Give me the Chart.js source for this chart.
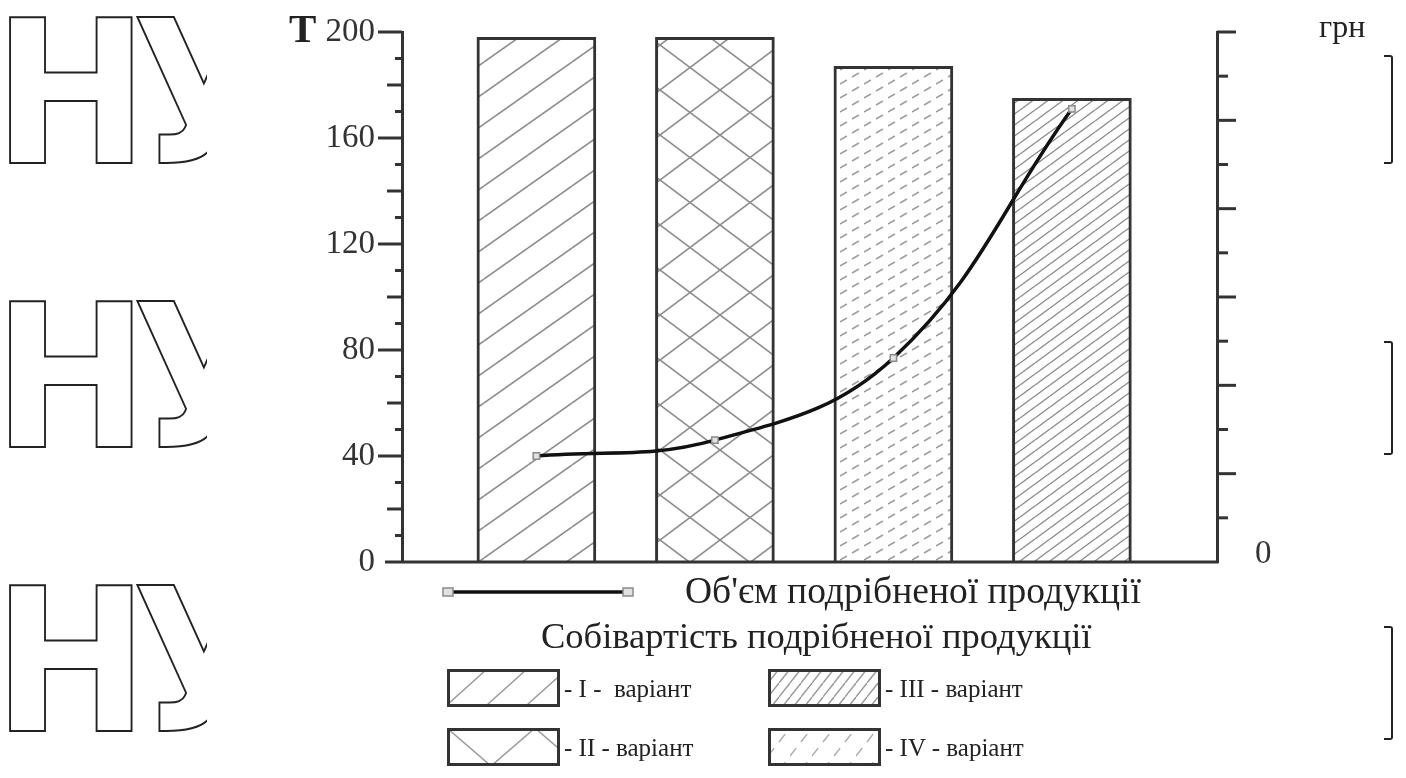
<!DOCTYPE html>
<html>
<head>
<meta charset="utf-8">
<title>Собівартість і об'єм подрібненої продукції</title>
<script src="https://cdn.jsdelivr.net/npm/chart.js@4.4.1/dist/chart.umd.min.js"></script>
<style>
  body { margin: 0; background: #fff; }
  #wrap { position: relative; width: 1406px; height: 778px; overflow: hidden; font-family: 'Liberation Serif', 'Times New Roman', serif; color: #222; }
  #chart { position: absolute; left: 0; top: 0; }
  .txt { position: absolute; white-space: nowrap; line-height: 1; }
  .logo { position: absolute; left: -7px; width: 230px; height: 200px; overflow: hidden; font-family: 'DejaVu Sans', sans-serif; font-weight: bold; font-size: 200px; line-height: 200px; color: #fff; -webkit-text-stroke: 2px #222; letter-spacing: -18px; white-space: nowrap; transform: scaleX(0.93); transform-origin: 0 0; }
  .brk { position: absolute; left: 1384px; width: 7px; border: 2px solid #222; border-left: none; border-radius: 0 3px 3px 0; }
  .sw { position: absolute; }
</style>
</head>
<body>
<div id="wrap">
  <canvas id="chart" width="1406" height="778"></canvas>

  <div class="logo" style="top:-6px">НУ</div>
  <div class="logo" style="top:278px">НУ</div>
  <div class="logo" style="top:562px">НУ</div>

  <div class="brk" style="top:55px;height:105px"></div>
  <div class="brk" style="top:341px;height:110px"></div>
  <div class="brk" style="top:626px;height:110px"></div>

  <div class="txt" style="left:289px;top:8px;font-size:41px;font-weight:bold">Т</div>
  <div class="txt" style="left:1319px;top:10px;font-size:32px">грн</div>

  <canvas class="sw" id="lineSample" width="200" height="20" style="left:438px;top:582px"></canvas>
  <div class="txt" style="left:685px;top:572px;font-size:37.5px">Об'єм подрібненої продукції</div>
  <div class="txt" style="left:541px;top:618px;font-size:36.5px">Собівартість подрібненої продукції</div>

  <canvas class="sw" id="sw0" width="113" height="38" style="left:447px;top:669px"></canvas>
  <canvas class="sw" id="sw1" width="113" height="38" style="left:447px;top:728px"></canvas>
  <canvas class="sw" id="sw2" width="113" height="38" style="left:768px;top:669px"></canvas>
  <canvas class="sw" id="sw3" width="113" height="38" style="left:768px;top:728px"></canvas>
  <div class="txt" style="left:564px;top:676px;font-size:25px">- I -&nbsp; варіант</div>
  <div class="txt" style="left:564px;top:735px;font-size:25px">- II - варіант</div>
  <div class="txt" style="left:885px;top:676px;font-size:25px">- III - варіант</div>
  <div class="txt" style="left:885px;top:735px;font-size:25px">- IV - варіант</div>
</div>

<script>
// варіанти (категорії) та їх положення на осі
const variants = ['I', 'II', 'III', 'IV'];
const barPositions = [0, 1, 2, 3];

// собівартість подрібненої продукції (стовпчики)
const costValues = [198, 198, 187, 175];

// об'єм подрібненої продукції, Т (крива)
const volumeValues = [40, 46, 77, 171];

// шкали
const leftMax = 200;
const leftMinorStep = 10;
const leftLabelStep = 40;
const rightMax = 12;
const rightLabels = ['0'];

// штрихування: плитка w x h з діагоналями
function hatchTile(w, h, color, lw, dash, cross) {
    const c = document.createElement('canvas');
    c.width = w;
    c.height = h;
    const g = c.getContext('2d');
    g.fillStyle = '#fff';
    g.fillRect(0, 0, w, h);
    g.strokeStyle = color;
    g.lineWidth = lw;
    if (dash) g.setLineDash(dash);
    for (const o of [-h, 0, h]) {
        g.beginPath();
        g.moveTo(0, h + o);
        g.lineTo(w, o);
        g.stroke();
        if (cross) {
            g.beginPath();
            g.moveTo(0, o);
            g.lineTo(w, h + o);
            g.stroke();
        }
    }
    return g.createPattern(c, 'repeat');
}

function dashFor(w, h, n, on) {
    const len = Math.sqrt(w * w + h * h) / n;
    return [on, len - on];
}

const barPatterns = [
    hatchTile(44, 31, '#8c8c8c', 1.6),
    hatchTile(60, 45, '#8c8c8c', 1.6, null, true),
    hatchTile(24, 14, '#a0a0a0', 1.6, dashFor(24, 14, 2, 8)),
    hatchTile(15, 11, '#8c8c8c', 1.4)
];

const swatchPatterns = [
    hatchTile(40, 36, '#999', 1.4),
    hatchTile(88, 76, '#999', 1.4, null, true),
    hatchTile(11, 14, '#999', 1.4),
    hatchTile(22, 28, '#aaa', 1.4, dashFor(22, 28, 2, 10))
];

const tickMarks = {
    id: 'tickMarks',
    afterDraw(chart) {
        const ctx = chart.ctx;
        const y = chart.scales.y;
        const y2 = chart.scales.y2;
        const area = chart.chartArea;
        ctx.save();
        ctx.strokeStyle = '#333';
        ctx.lineWidth = 3;
        y.ticks.forEach(t => {
            if (t.value === 0) return;
            const py = y.getPixelForValue(t.value);
            const len = t.value % leftLabelStep === 0 ? 24 : (t.value % 20 === 0 ? 15 : 7);
            ctx.beginPath();
            ctx.moveTo(y.right - len, py);
            ctx.lineTo(y.right, py);
            ctx.stroke();
        });
        y2.ticks.forEach(t => {
            if (t.value === 0) return;
            const py = y2.getPixelForValue(t.value);
            const len = t.value % 2 === 0 ? 19 : 11;
            ctx.beginPath();
            ctx.moveTo(y2.left, py);
            ctx.lineTo(y2.left + len, py);
            ctx.stroke();
        });
        // базова лінія
        ctx.beginPath();
        ctx.moveTo(area.left - 17, area.bottom);
        ctx.lineTo(area.right + 1.5, area.bottom);
        ctx.stroke();
        ctx.restore();
    }
};

const tickFont = { family: "'Liberation Serif', 'Times New Roman', serif", size: 33 };

function fixWidth(w) {
    return s => {
        s.width = w;
        s.paddingTop = 0;
        s.paddingBottom = 0;
    };
}

new Chart(document.getElementById('chart'), {
    data: {
        datasets: [
            {
                type: 'line',
                label: "Об'єм подрібненої продукції",
                data: barPositions.map((x, i) => ({ x: x, y: volumeValues[i] })),
                borderColor: '#111',
                borderWidth: 3.5,
                tension: 0.4,
                pointStyle: 'rect',
                pointRadius: 4.5,
                pointBackgroundColor: '#e2e2e2',
                pointBorderColor: '#8a8a8a',
                pointBorderWidth: 1.5,
                order: 1
            },
            {
                type: 'bar',
                label: 'Собівартість подрібненої продукції',
                data: barPositions.map((x, i) => ({ x: x, y: costValues[i] })),
                backgroundColor: barPatterns,
                borderColor: '#333',
                borderWidth: 3,
                barThickness: 119,
                order: 2
            }
        ]
    },
    options: {
        responsive: false,
        animation: false,
        layout: { padding: { top: 32, bottom: 216, left: 0, right: 0 } },
        plugins: {
            legend: { display: false },
            tooltip: { enabled: false }
        },
        scales: {
            x: {
                type: 'linear',
                min: -0.753,
                max: 3.813,
                offset: false,
                display: false
            },
            y: {
                position: 'left',
                min: 0,
                max: leftMax,
                grid: { display: false, drawTicks: false },
                border: { display: true, color: '#333', width: 3 },
                ticks: {
                    stepSize: leftMinorStep,
                    autoSkip: false,
                    padding: 27,
                    color: '#333',
                    font: tickFont,
                    callback: v => (v % leftLabelStep === 0 ? String(v) : '')
                },
                afterFit: fixWidth(402)
            },
            y2: {
                position: 'right',
                min: 0,
                max: rightMax,
                grid: { display: false, drawTicks: false },
                border: { display: true, color: '#333', width: 3 },
                ticks: {
                    stepSize: 1,
                    autoSkip: false,
                    padding: 38,
                    labelOffset: -8,
                    color: '#333',
                    font: tickFont,
                    callback: v => rightLabels[v] || ''
                },
                afterFit: fixWidth(189)
            }
        }
    },
    plugins: [tickMarks]
});

// легенда
const ls = document.getElementById('lineSample').getContext('2d');
ls.strokeStyle = '#111';
ls.lineWidth = 3.5;
ls.beginPath();
ls.moveTo(10, 10);
ls.lineTo(190, 10);
ls.stroke();
[10, 190].forEach(px => {
    ls.fillStyle = '#e2e2e2';
    ls.strokeStyle = '#8a8a8a';
    ls.lineWidth = 1.5;
    ls.fillRect(px - 5, 6, 10, 8);
    ls.strokeRect(px - 5, 6, 10, 8);
});

swatchPatterns.forEach((p, i) => {
    const g = document.getElementById('sw' + i).getContext('2d');
    g.fillStyle = p;
    g.fillRect(0, 0, 113, 38);
    g.strokeStyle = '#333';
    g.lineWidth = 3;
    g.strokeRect(1.5, 1.5, 110, 35);
});
</script>
</body>
</html>
